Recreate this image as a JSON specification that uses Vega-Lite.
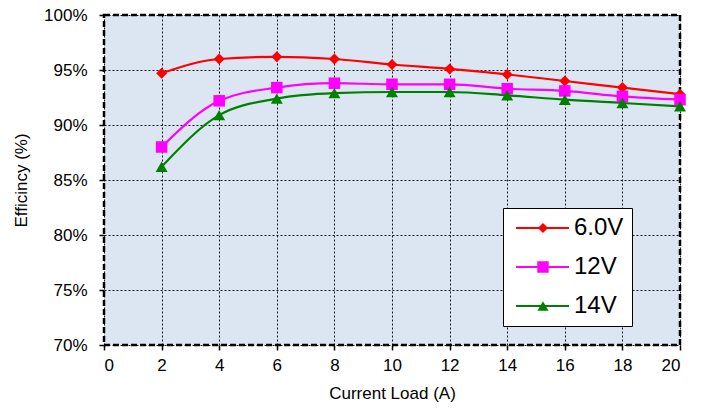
{
  "$schema": "https://vega.github.io/schema/vega-lite/v6.json",
  "width": 576,
  "height": 330,
  "autosize": {"type": "none"},
  "padding": {"left": 104, "top": 15, "right": 22, "bottom": 63},
  "background": "white",
  "config": {
    "font": "Liberation Sans",
    "view": {"fill": "#dce6f2", "stroke": "black", "strokeWidth": 2.5, "strokeDash": [6, 3]},
    "axis": {
      "domain": false,
      "grid": true,
      "gridColor": "black",
      "gridDash": [2, 2],
      "gridWidth": 1,
      "gridOpacity": 0.9,
      "ticks": true,
      "tickColor": "black",
      "tickSize": 5,
      "tickWidth": 1.5,
      "labelFontSize": 17,
      "labelColor": "black",
      "titleFontSize": 17,
      "titleFontWeight": "normal",
      "titleColor": "black"
    }
  },
  "data": {
    "values": [
      {"series": "6.0V", "load": 2, "eff": 94.7},
      {"series": "6.0V", "load": 4, "eff": 96.0},
      {"series": "6.0V", "load": 6, "eff": 96.2},
      {"series": "6.0V", "load": 8, "eff": 96.0},
      {"series": "6.0V", "load": 10, "eff": 95.5},
      {"series": "6.0V", "load": 12, "eff": 95.1},
      {"series": "6.0V", "load": 14, "eff": 94.6},
      {"series": "6.0V", "load": 16, "eff": 94.0},
      {"series": "6.0V", "load": 18, "eff": 93.4},
      {"series": "6.0V", "load": 20, "eff": 92.8},
      {"series": "12V", "load": 2, "eff": 88.0},
      {"series": "12V", "load": 4, "eff": 92.2},
      {"series": "12V", "load": 6, "eff": 93.4},
      {"series": "12V", "load": 8, "eff": 93.8},
      {"series": "12V", "load": 10, "eff": 93.7},
      {"series": "12V", "load": 12, "eff": 93.7},
      {"series": "12V", "load": 14, "eff": 93.3},
      {"series": "12V", "load": 16, "eff": 93.1},
      {"series": "12V", "load": 18, "eff": 92.6},
      {"series": "12V", "load": 20, "eff": 92.3},
      {"series": "14V", "load": 2, "eff": 86.2},
      {"series": "14V", "load": 4, "eff": 90.9},
      {"series": "14V", "load": 6, "eff": 92.4},
      {"series": "14V", "load": 8, "eff": 92.9},
      {"series": "14V", "load": 10, "eff": 93.0},
      {"series": "14V", "load": 12, "eff": 93.0},
      {"series": "14V", "load": 14, "eff": 92.7},
      {"series": "14V", "load": 16, "eff": 92.3},
      {"series": "14V", "load": 18, "eff": 92.0},
      {"series": "14V", "load": 20, "eff": 91.7}
    ]
  },
  "encoding": {
    "x": {
      "field": "load",
      "type": "quantitative",
      "scale": {"domain": [0, 20], "nice": false},
      "axis": {"values": [0, 2, 4, 6, 8, 10, 12, 14, 16, 18, 20], "title": "Current Load (A)", "labelPadding": 7, "titlePadding": 12}
    },
    "y": {
      "field": "eff",
      "type": "quantitative",
      "scale": {"domain": [70, 100], "nice": false, "zero": false},
      "axis": {"values": [70, 75, 80, 85, 90, 95, 100], "labelExpr": "datum.value + '%'", "title": "Efficincy (%)", "labelPadding": 12, "titlePadding": 13}
    }
  },
  "resolve": {"legend": {"color": "independent", "shape": "independent", "size": "independent"}},
  "layer": [
    {
      "mark": {"type": "line", "interpolate": "monotone", "strokeWidth": 2.2},
      "encoding": {
        "color": {
          "field": "series",
          "type": "nominal",
          "scale": {"domain": ["6.0V", "12V", "14V"], "range": ["#ff0000", "#ff00ff", "#008000"]},
          "legend": {
            "orient": "none",
            "legendX": 399,
            "legendY": 193,
            "title": null,
            "fillColor": "white",
            "strokeColor": "black",
            "padding": 8,
            "labelFontSize": 24,
            "labelColor": "black",
            "rowPadding": 15,
            "symbolSize": 144,
            "labelOffset": 39,
            "encoding": {
              "symbols": {
                "shape": {"value": {"expr": "datum.value === '6.0V' ? 'M-1.17,-0.15H7.67V0.15H-1.17Z M3.33,-0.85L4.18,0L3.33,0.85L2.48,0Z' : datum.value === '12V' ? 'M-1.17,-0.15H7.67V0.15H-1.17Z M2.38,-0.95H4.28V0.95H2.38Z' : 'M-1.17,-0.15H7.67V0.15H-1.17Z M3.33,-0.8L4.25,0.8L2.41,0.8Z'"}},
                "fill": {"value": {"expr": "datum.value === '6.0V' ? '#ff0000' : datum.value === '12V' ? '#ff00ff' : '#008000'"}},
                "fillOpacity": {"value": 1},
                "strokeWidth": {"value": 0},
                "opacity": {"value": 1}
              }
            }
          }
        }
      }
    },
    {
      "mark": {"type": "point", "filled": true, "opacity": 1},
      "encoding": {
        "color": {"field": "series", "type": "nominal", "legend": null},
        "shape": {
          "field": "series",
          "type": "nominal",
          "scale": {"domain": ["6.0V", "12V", "14V"], "range": ["diamond", "square", "triangle-up"]},
          "legend": null
        },
        "size": {
          "field": "series",
          "type": "nominal",
          "scale": {"domain": ["6.0V", "12V", "14V"], "range": [121, 144, 144]},
          "legend": null
        }
      }
    }
  ]
}
